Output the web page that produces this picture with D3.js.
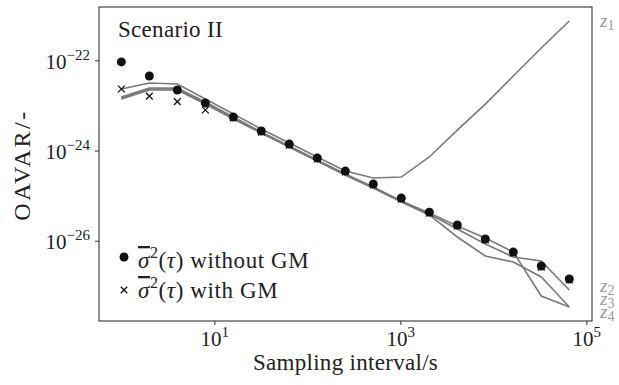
<!DOCTYPE html>
<html>
<head>
<meta charset="utf-8">
<script src="https://cdn.jsdelivr.net/npm/d3@7"></script>
<style>
  body { margin: 0; background: #fff; }
  text { font-family: "Liberation Serif", serif; }
</style>
</head>
<body>
<div id="chart"></div>
<script>
// sampling intervals tau = 2^0 ... 2^16
var taus = [1, 2, 4, 8, 16, 32, 64, 128, 256, 512, 1024, 2048, 4096, 8192, 16384, 32768, 65536];

// estimated OAVAR without GM (dots)
var withoutGM = [9.2e-23, 4.5e-23, 2.2e-23, 1.13e-23, 5.5e-24, 2.7e-24, 1.39e-24, 6.8e-25, 3.5e-25, 1.8e-25,
                 8.8e-26, 4.3e-26, 2.23e-26, 1.09e-26, 5.6e-27, 2.75e-27, 1.42e-27];
// estimated OAVAR with GM (crosses)
var withGM = [2.31e-23, 1.61e-23, 1.21e-23, 7.91e-24, 5.26e-24, 2.57e-24, 1.32e-24, 6.49e-25, 3.34e-25, 1.72e-25,
              8.4e-26, 4.11e-26, 2.12e-26, 1.04e-26, 5.3e-27, 2.6e-27, 1.35e-27];

// OAVAR of the individual channels z1..z4
var z1 = [2.31e-23, 3.14e-23, 2.98e-23, 1.39e-23, 6.44e-24, 3.0e-24, 1.47e-24, 7.18e-25, 3.51e-25, 2.45e-25,
          2.58e-25, 7.18e-25, 2.83e-24, 1.07e-23, 4.49e-23, 1.87e-22, 7.43e-22];
var z2 = [1.53e-23, 2.43e-23, 2.43e-23, 1.19e-23, 5.53e-24, 2.57e-24, 1.26e-24, 6.15e-25, 3.01e-25, 1.55e-25,
          7.59e-26, 3.91e-26, 1.82e-26, 8.45e-27, 4.35e-27, 3.55e-27, 8.07e-28];
var z3 = [1.46e-23, 2.31e-23, 2.31e-23, 1.13e-23, 5.26e-24, 2.44e-24, 1.2e-24, 5.85e-25, 2.86e-25, 1.48e-25,
          7.21e-26, 3.72e-26, 1.21e-26, 4.58e-27, 3.37e-27, 1.57e-27, 3.39e-28];
var z4 = [1.39e-23, 2.19e-23, 2.19e-23, 1.07e-23, 4.99e-24, 2.44e-24, 1.2e-24, 5.85e-25, 2.86e-25, 1.48e-25,
          7.59e-26, 4.11e-26, 2.12e-26, 1.15e-26, 5.61e-27, 5.94e-28, 3.39e-28];

var zSeries = [z1, z2, z3, z4];
var zNames = ["1", "2", "3", "4"];

var xTicks = [1e1, 1e3, 1e5];
var xTickExp = ["1", "3", "5"];
var yTicks = [1e-22, 1e-24, 1e-26];
var yTickExp = ["\u221222", "\u221224", "\u221226"];

var W = 619, H = 385,
    margin = { top: 7, right: 27, bottom: 64, left: 99 },
    width = W - margin.left - margin.right,
    height = H - margin.top - margin.bottom;

var svg = d3.select("#chart").append("svg")
    .attr("width", W)
    .attr("height", H);

var g = svg.append("g")
    .attr("transform", "translate(" + margin.left + "," + margin.top + ")");

var x = d3.scaleLog().domain([0.575, 1.15e5]).range([0, width]);
var y = d3.scaleLog().domain([1.66e-28, 1.52e-21]).range([height, 0]);

var lineColor = "#7a7a7a";

var line = d3.line()
    .x(function(d, i) { return x(taus[i]); })
    .y(function(d) { return y(d); });

g.selectAll(".zline")
    .data(zSeries)
    .enter().append("path")
    .attr("class", "zline")
    .attr("d", line)
    .attr("fill", "none")
    .attr("stroke", lineColor)
    .attr("stroke-width", 1.6);

// crosses
var cs = 3.4;
g.selectAll(".cross")
    .data(withGM)
    .enter().append("path")
    .attr("class", "cross")
    .attr("transform", function(d, i) { return "translate(" + x(taus[i]) + "," + y(d) + ")"; })
    .attr("d", "M" + (-cs) + "," + (-cs) + "L" + cs + "," + cs + "M" + (-cs) + "," + cs + "L" + cs + "," + (-cs))
    .attr("stroke", "#111")
    .attr("stroke-width", 1.3);

// dots
g.selectAll(".dot")
    .data(withoutGM)
    .enter().append("circle")
    .attr("class", "dot")
    .attr("cx", function(d, i) { return x(taus[i]); })
    .attr("cy", function(d) { return y(d); })
    .attr("r", 4.5)
    .attr("fill", "#111");

// axes
var xAxis = g.append("g")
    .attr("transform", "translate(0," + height + ")")
    .call(d3.axisBottom(x).tickValues(xTicks).tickSize(4).tickFormat(function() { return ""; }));
var yAxis = g.append("g")
    .call(d3.axisLeft(y).tickValues(yTicks).tickSize(4).tickFormat(function() { return ""; }));

[xAxis, yAxis].forEach(function(a) {
    a.select(".domain").remove();
    a.selectAll(".tick line").attr("stroke", "#333").attr("stroke-width", 1);
});

xAxis.selectAll(".tick").each(function(d, i) {
    var t = d3.select(this).append("text")
        .attr("fill", "#222")
        .attr("text-anchor", "middle")
        .attr("y", 25)
        .style("font-size", "21px");
    t.append("tspan").text("10");
    t.append("tspan").attr("dy", -9).style("font-size", "15px").text(xTickExp[i]);
});

yAxis.selectAll(".tick").each(function(d, i) {
    var t = d3.select(this).append("text")
        .attr("fill", "#222")
        .attr("text-anchor", "end")
        .attr("x", -9)
        .attr("y", 8)
        .style("font-size", "21px");
    t.append("tspan").text("10");
    t.append("tspan").attr("dy", -9).style("font-size", "15px").text(yTickExp[i]);
});

// frame
g.append("rect")
    .attr("width", width)
    .attr("height", height)
    .attr("fill", "none")
    .attr("stroke", "#333")
    .attr("stroke-width", 1.1);

// axis labels
svg.append("text")
    .attr("x", margin.left + width / 2)
    .attr("y", 370)
    .attr("text-anchor", "middle")
    .attr("fill", "#222")
    .style("font-size", "23px")
    .style("letter-spacing", "0.3px")
    .text("Sampling interval/s");

svg.append("text")
    .attr("transform", "translate(30,165) rotate(-90)")
    .attr("text-anchor", "middle")
    .attr("fill", "#222")
    .style("font-size", "24px")
    .style("letter-spacing", "2.5px")
    .text("OAVAR/-");

// title inside
g.append("text")
    .attr("x", 19)
    .attr("y", 30)
    .attr("fill", "#222")
    .style("font-size", "23px")
    .style("letter-spacing", "0.3px")
    .text("Scenario II");

// z labels on the right
var zOffsets = [6, 2, -2, 11];
zSeries.forEach(function(s, i) {
    var t = g.append("text")
        .attr("x", width + 8)
        .attr("y", y(s[s.length - 1]) + zOffsets[i])
        .attr("fill", "#999")
        .style("font-size", "19px");
    t.append("tspan").style("font-style", "italic").text("z");
    t.append("tspan").attr("dy", 3).style("font-size", "14px").text(zNames[i]);
});

// legend
var legend = g.append("g").attr("transform", "translate(25,250)");
var items = ["without GM", "with GM"];
var rowY = [0, 33];
items.forEach(function(lbl, i) {
    var row = legend.append("g").attr("transform", "translate(0," + rowY[i] + ")");
    if (i === 0) {
        row.append("circle").attr("r", 4.5).attr("fill", "#111");
    } else {
        row.append("path")
            .attr("d", "M-3.2,-3.2L3.2,3.2M-3.2,3.2L3.2,-3.2")
            .attr("stroke", "#111").attr("stroke-width", 1.3);
    }
    var t = row.append("text")
        .attr("x", 14)
        .attr("y", i === 0 ? 11 : 8)
        .attr("fill", "#222")
        .style("font-size", "23px")
        .style("letter-spacing", "0.6px");
    t.append("tspan").style("font-style", "italic").style("text-decoration", "overline").text("\u03c3");
    t.append("tspan").attr("dy", -10).style("font-size", "16px").text("2");
    t.append("tspan").attr("dy", 10).text("(");
    t.append("tspan").style("font-style", "italic").text("\u03c4");
    t.append("tspan").text(") " + lbl);
});
</script>
</body>
</html>
